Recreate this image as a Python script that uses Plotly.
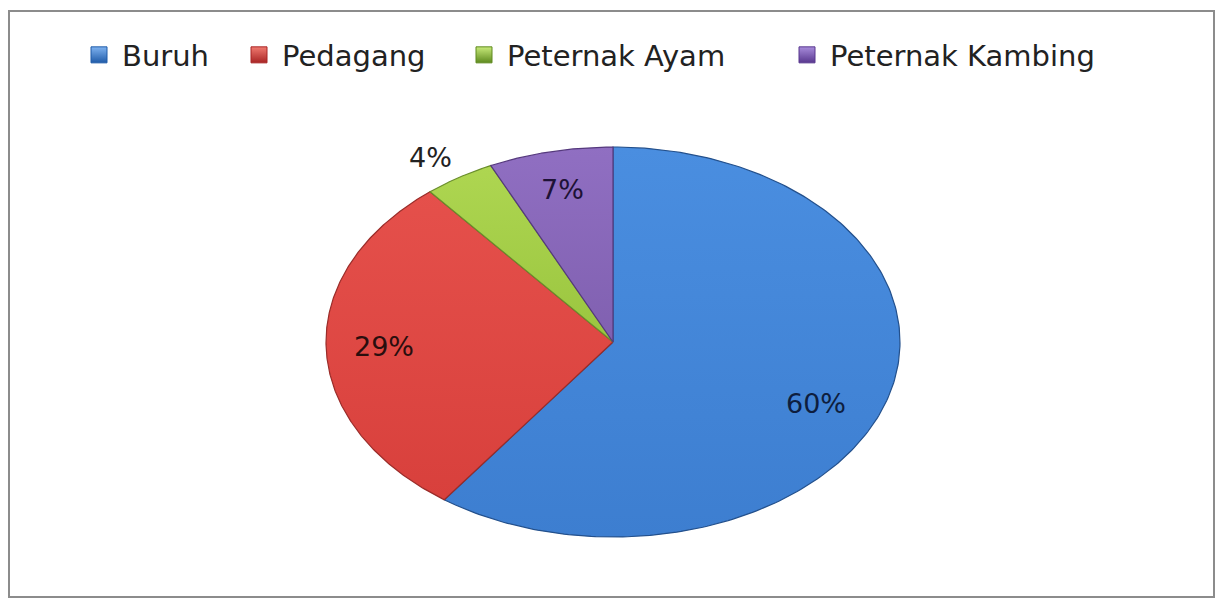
import numpy as np
import plotly.graph_objects as go

categories = ["Buruh", "Pedagang", "Peternak Ayam", "Peternak Kambing"]
values = [60, 29, 4, 7]
labels = ["60%", "29%", "4%", "7%"]

colors = ["#3D7ED0", "#D8403C", "#9AC53F", "#8060B0"]
light_colors = ["#4A8EE0", "#E5504B", "#AED651", "#906FC2"]
edge_colors = ["#23508C", "#9A2C29", "#6A8E2C", "#55397D"]
marker_dark = ["#1F5BA8", "#A82424", "#5E8A1E", "#58378E"]
marker_light = ["#7FB2F0", "#F07A70", "#C8EA7A", "#A88CDB"]
# label placement style: (radius factor, angle offset in degrees)
label_style = [(0.775, -6.0), (0.80, 0.0), (1.14, 1.6), (0.80, 0.0)]
label_colors = ["#0E1E3E", "#2A0E0E", "#222222", "#1E1236"]
legend_x_px = [76, 236, 461, 784]

W, H = 1218, 599
cx, cy = 613, 342      # pixel centre of ellipse
rx, ry = 287, 195      # pixel radii

fig = go.Figure()
total = sum(values)
cum = 0.0
for i, (cat, v) in enumerate(zip(categories, values)):
    a0 = np.pi / 2 - 2 * np.pi * cum / total
    a1 = np.pi / 2 - 2 * np.pi * (cum + v) / total
    t = np.linspace(a0, a1, 240)
    xs = np.concatenate([[0], np.cos(t), [0]])
    ys = np.concatenate([[0], np.sin(t), [0]])
    fig.add_trace(go.Scatter(
        x=xs, y=ys, mode="lines", fill="toself", name=cat,
        fillcolor=colors[i],
        fillgradient=dict(type="vertical",
                          colorscale=[[0, colors[i]], [1, light_colors[i]]]),
        line=dict(color=edge_colors[i], width=1.2),
        hoverinfo="name", showlegend=False,
    ))
    lr, da = label_style[i]
    am = (a0 + a1) / 2 + np.deg2rad(da)
    fig.add_annotation(x=lr * np.cos(am), y=lr * np.sin(am),
                       text=labels[i], showarrow=False,
                       font=dict(size=27, color=label_colors[i], family="DejaVu Sans"))
    # legend entry
    lg = "legend" if i == 0 else f"legend{i + 1}"
    fig.add_trace(go.Scatter(
        x=[None], y=[None], mode="markers", name=cat, legend=lg,
        marker=dict(symbol="square", size=16, color=marker_light[i],
                    line=dict(color=marker_dark[i], width=1),
                    gradient=dict(type="vertical", color=marker_dark[i])),
        showlegend=True, hoverinfo="skip",
    ))
    cum += v

xmin = -cx / rx
xmax = (W - cx) / rx
ymax = cy / ry
ymin = -(H - cy) / ry

layout_legends = {}
for i in range(len(categories)):
    key = "legend" if i == 0 else f"legend{i + 1}"
    layout_legends[key] = dict(
        x=legend_x_px[i] / W, xanchor="left", y=1 - 55 / H, yanchor="middle",
        font=dict(size=29, color="#222222", family="DejaVu Sans"),
        itemwidth=36, bgcolor="rgba(0,0,0,0)", borderwidth=0,
    )

fig.update_layout(
    width=W, height=H,
    margin=dict(l=0, r=0, t=0, b=0),
    paper_bgcolor="white", plot_bgcolor="white",
    xaxis=dict(range=[xmin, xmax], visible=False, fixedrange=True),
    yaxis=dict(range=[ymin, ymax], visible=False, fixedrange=True),
    shapes=[dict(type="rect", xref="paper", yref="paper",
                 x0=9 / W, x1=1214 / W, y0=1 - 597 / H, y1=1 - 11 / H,
                 line=dict(color="#8C8C8C", width=2), fillcolor="rgba(0,0,0,0)", layer="below")],
    **layout_legends,
)

fig.write_html("out.html")
